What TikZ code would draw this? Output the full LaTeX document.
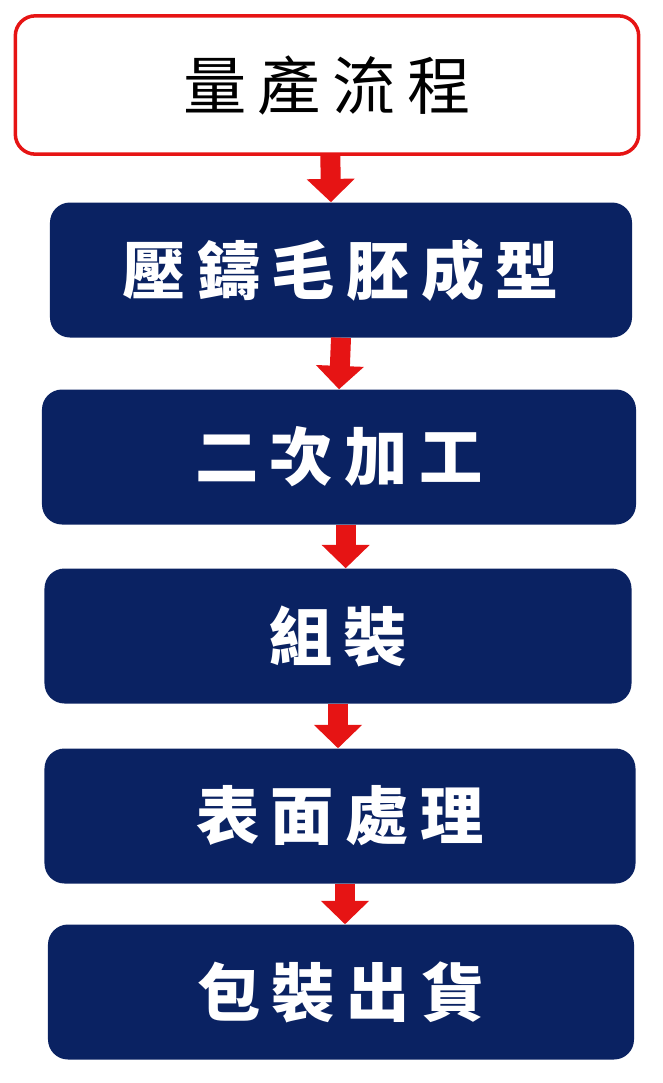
\documentclass[tikz,border=0pt]{standalone}
\usepackage{fontspec}
\newfontfamily\cjk[LetterSpace=18]{Noto Sans CJK TC}
\usetikzlibrary{arrows.meta}
\definecolor{navy}{RGB}{10,34,98}
\definecolor{arrowred}{RGB}{230,20,20}
\begin{document}
\begin{tikzpicture}[x=0.03cm,y=-0.03cm]
  \tikzstyle{titlebox}=[draw=arrowred,line width=3pt,fill=white,rounded corners=0.6cm,
    minimum width=18.7cm,minimum height=4.15cm,font=\cjk\fontsize{54}{56}\selectfont]
  \tikzstyle{stepbox}=[fill=navy,rounded corners=0.6cm,text=white,
    minimum height=4.05cm,font=\cjk\bfseries\fontsize{54}{56}\selectfont]
  \tikzstyle{flow}=[arrowred,line width=0.6cm,-{Triangle[width=1.4cm,length=0.7cm]}]
  \useasboundingbox (0,0) rectangle (662,1083);
  \node[titlebox](T) at (327,85){量產流程\hspace{-0.18em}};
  \node[stepbox,minimum width=17.46cm](S1) at (341,270){壓鑄毛胚成型\hspace{-0.18em}};
  \node[stepbox,minimum width=17.82cm](S2) at (339,457){二次加工\hspace{-0.18em}};
  \node[stepbox,minimum width=17.61cm](S3) at (338,636){組裝\hspace{-0.18em}};
  \node[stepbox,minimum width=17.73cm](S4) at (340,816){表面處理\hspace{-0.18em}};
  \node[stepbox,minimum width=17.58cm](S5) at (341,992){包裝出貨\hspace{-0.18em}};
  \path[draw,flow] ([xshift=0.1cm]T.south) -- ([xshift=-0.3cm]S1.north);
  \path[draw,flow] (S1.south) -- (S2.north);
  \path[draw,flow] ([xshift=0.2cm]S2.south) -- ([xshift=0.2cm]S2.south |- S3.north);
  \path[draw,flow] (S3.south) -- (S3.south |- S4.north);
  \path[draw,flow] ([xshift=0.15cm]S4.south) -- ([xshift=0.15cm]S4.south |- S5.north);
\end{tikzpicture}
\end{document}
